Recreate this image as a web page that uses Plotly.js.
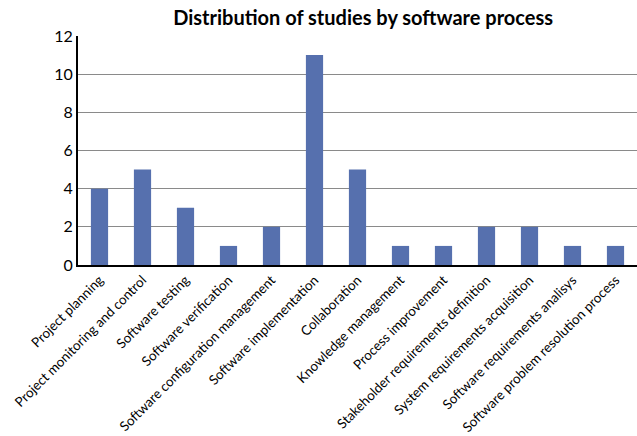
<!DOCTYPE html>
<html>
<head>
<meta charset="utf-8">
<script src="https://cdn.plot.ly/plotly-3.0.1.min.js"></script>
<style>
  html, body { margin: 0; padding: 0; background: #fff; }
  #chart { width: 637px; height: 436px; }
</style>
</head>
<body>
<div id="chart"></div>
<script>
// Number of studies per software process
const processes = [
  "Project planning",
  "Project monitoring and control",
  "Software testing",
  "Software verification",
  "Software configuration management",
  "Software implementation",
  "Collaboration",
  "Knowledge management",
  "Process improvement",
  "Stakeholder requirements definition",
  "System requirements acquisition",
  "Software requirements analisys",
  "Software problem resolution process"
];
const studyCounts = [4, 5, 3, 1, 2, 11, 5, 1, 1, 2, 2, 1, 1];
const yTicks = [0, 2, 4, 6, 8, 10, 12];

const fontFamily = "Lato, 'Open Sans', sans-serif";

const trace = {
  type: "bar",
  x: processes,
  y: studyCounts,
  marker: { color: "#5670ae", line: { width: 0 } },
  hoverinfo: "x+y"
};

const layout = {
  width: 637,
  height: 436,
  margin: { l: 78, r: 0, t: 36, b: 171, pad: 0 },
  paper_bgcolor: "#ffffff",
  plot_bgcolor: "#ffffff",
  bargap: 0.6,
  showlegend: false,
  font: { family: fontFamily, color: "#000000" },
  title: {
    text: "<b>Distribution of studies by software process</b>",
    font: { family: fontFamily, size: 20, color: "#000000" },
    x: 0.57, xanchor: "center",
    y: 0.958, yanchor: "middle"
  },
  xaxis: {
    type: "category",
    range: [-0.5, 12.5],
    tickangle: -45,
    tickfont: { family: fontFamily, size: 13.4, color: "#000000" },
    showline: true, linecolor: "#000000", linewidth: 2,
    showgrid: false, ticks: "", automargin: false
  },
  yaxis: {
    range: [0, 12],
    tickvals: yTicks,
    ticktext: yTicks.map(String),
    tickfont: { family: fontFamily, size: 16, color: "#000000" },
    showline: true, linecolor: "#000000", linewidth: 2,
    showgrid: true, gridcolor: "#8a8a8a", gridwidth: 1,
    zeroline: false, ticks: "", automargin: false
  }
};

Plotly.newPlot("chart", [trace], layout, { displayModeBar: false, staticPlot: true });
</script>
</body>
</html>
